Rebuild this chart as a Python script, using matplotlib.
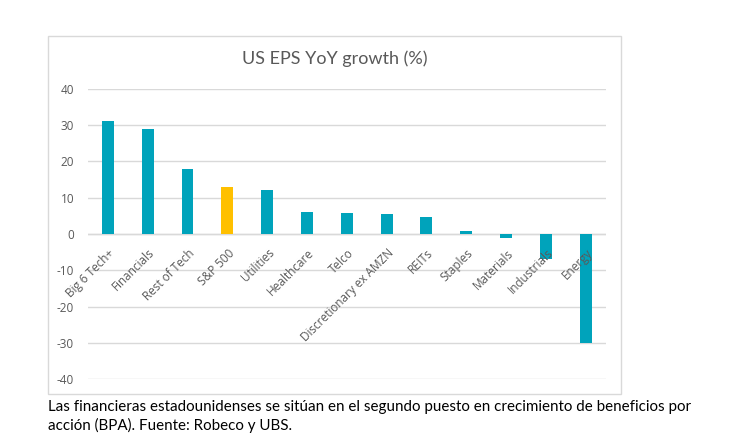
import matplotlib
matplotlib.use("Agg")
import matplotlib.pyplot as plt
import matplotlib.transforms as mtransforms
from matplotlib.patches import Rectangle

categories = ["Big 6 Tech+", "Financials", "Rest of Tech", "S&P 500", "Utilities",
              "Healthcare", "Telco", "Discretionary ex AMZN", "REITs", "Staples",
              "Materials", "Industrials", "Energy"]
values = [31, 29, 18, 13, 12, 6, 5.7, 5.6, 4.6, 0.7, -1.1, -6.8, -30]
highlight = "S&P 500"
yticks = [-40, -30, -20, -10, 0, 10, 20, 30, 40]
title = "US EPS YoY growth (%)"
caption = ("Las financieras estadounidenses se sitúan en el segundo puesto en crecimiento de beneficios por\n"
           "acción (BPA). Fuente: Robeco y UBS.")

TEAL = "#00A3BB"
GOLD = "#FFC000"
GRAY = "#595959"
GRID = "#D9D9D9"

plt.rcParams['font.family'] = ['Lato', 'DejaVu Sans']

fig = plt.figure(figsize=(7.40, 4.46), dpi=100)
fig.patch.set_facecolor("white")

# chart frame
W, H = 740, 446
frame = Rectangle((48 / W, 1 - 394 / H), (621 - 48) / W, (394 - 36) / H,
                  transform=fig.transFigure, fill=False, edgecolor="#D9D9D9", lw=1.0)
fig.patches.append(frame)

ax = fig.add_axes([88 / W, 1 - 379.2 / H, (605.5 - 88) / W, (379.2 - 88.8) / H])
x = list(range(len(categories)))
colors = [GOLD if c == highlight else TEAL for c in categories]
ax.bar(x, values, width=0.30, color=colors, zorder=3)

ax.set_xlim(-0.5, len(categories) - 0.5)
ax.set_ylim(-40, 40)
ax.set_yticks(yticks)
ax.set_yticklabels([str(t) for t in yticks], family=['Open Sans', 'DejaVu Sans'])
ax.yaxis.grid(True, color=GRID, lw=1.0, zorder=0)
ax.axhline(0, color=GRID, lw=1.0, zorder=1)
for s in ax.spines.values():
    s.set_visible(False)
ax.tick_params(axis='y', length=0, pad=10, labelsize=8.5, labelcolor=GRAY)
ax.set_xticks([])

# rotated category labels anchored below zero line
offset = mtransforms.ScaledTranslation(5 / 100, -17 / 100, fig.dpi_scale_trans)
for xi, c in zip(x, categories):
    ax.text(xi, 0, c, rotation=45, ha='right', va='center', rotation_mode='anchor',
            fontsize=8.5, color=GRAY, family=['Open Sans', 'DejaVu Sans'],
            transform=ax.transData + offset, zorder=4)

fig.text(335 / W, 1 - 59 / H, title, ha='center', va='center', fontsize=13, color=GRAY)

fig.text(48 / W, 1 - 400 / H, caption, ha='left', va='top', fontsize=10.9,
         color="black", linespacing=1.3)

fig.savefig("out.png", dpi=100)
